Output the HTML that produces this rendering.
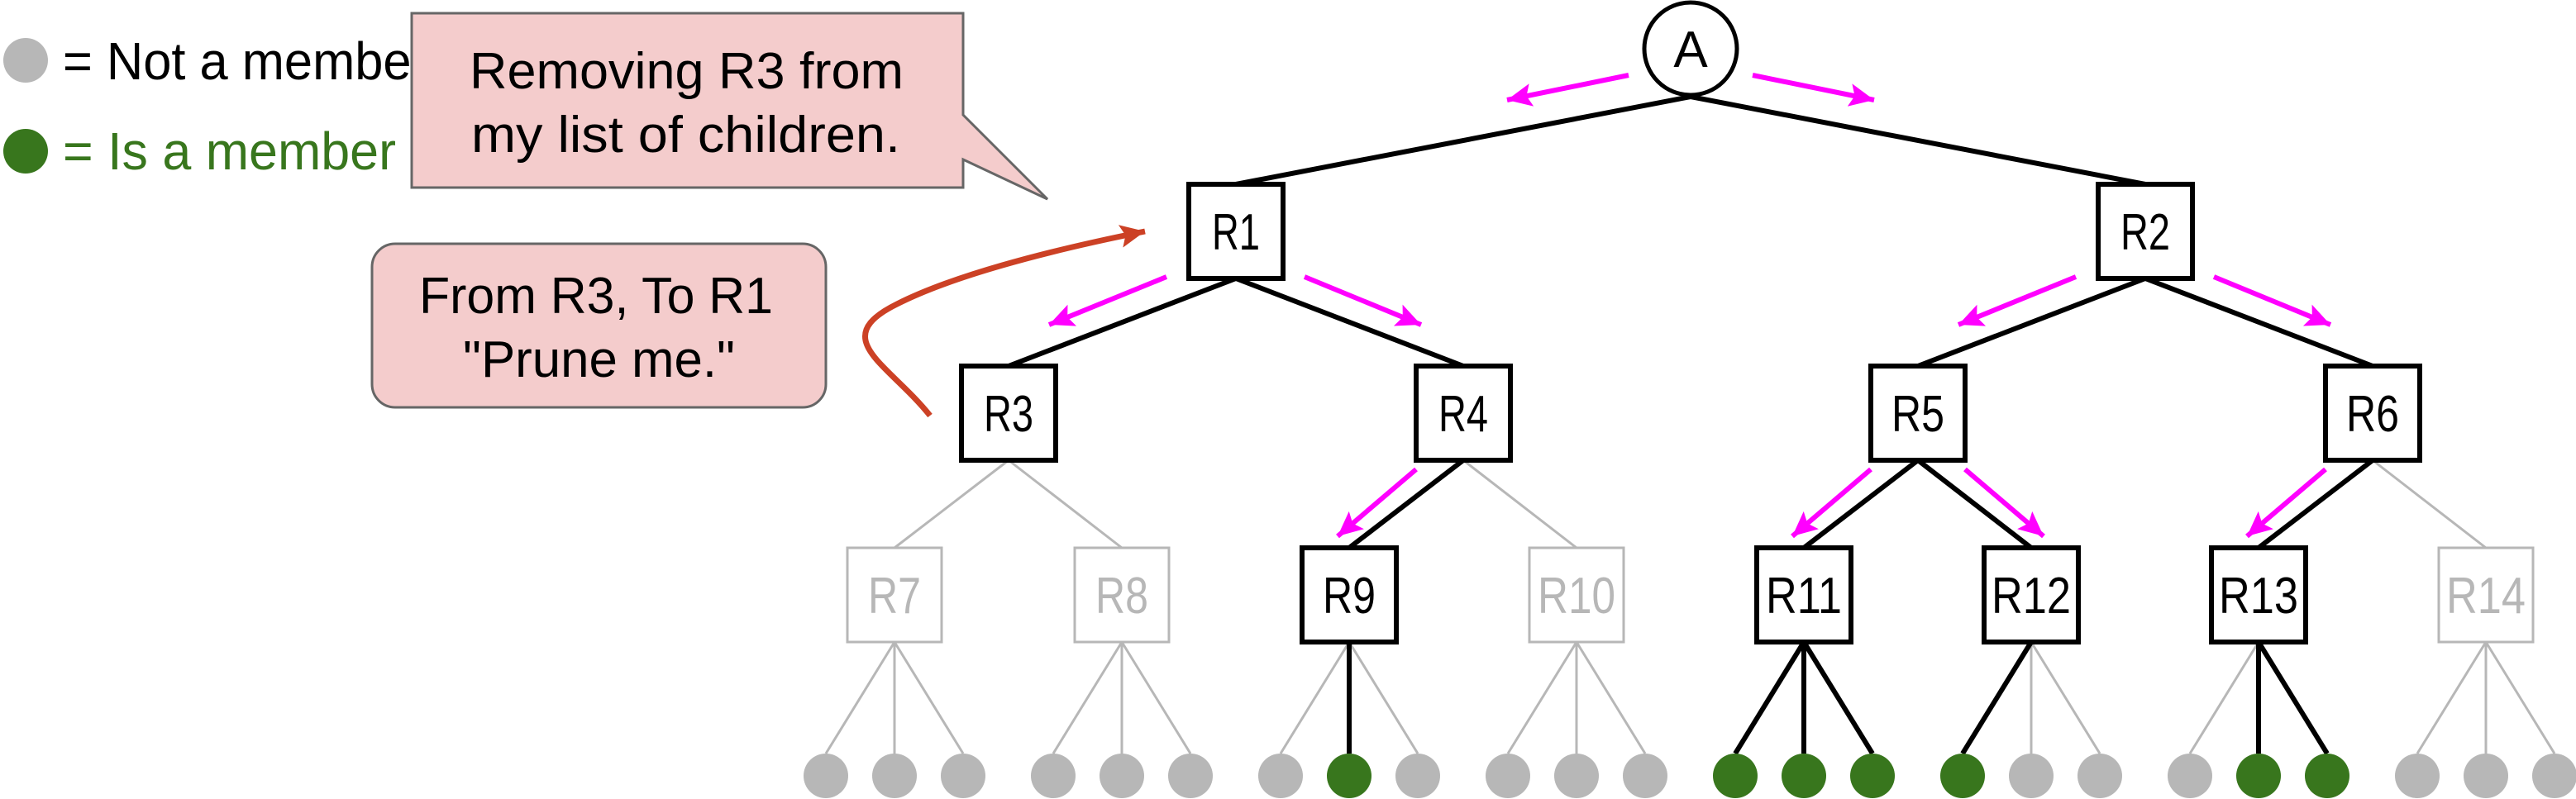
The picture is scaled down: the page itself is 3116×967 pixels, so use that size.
<!DOCTYPE html>
<html><head><meta charset="utf-8"><style>
html,body{margin:0;padding:0;background:#fff;}
svg{display:block;}
text{font-family:"Liberation Sans",sans-serif;}
</style></head><body>
<svg width="3116" height="967" viewBox="0 0 3116 967" xmlns="http://www.w3.org/2000/svg">
<defs>
<marker id="mg" markerUnits="userSpaceOnUse" markerWidth="40" markerHeight="40" refX="30" refY="14" orient="auto">
<path d="M0,0 L30,14 L0,28 L6,14 Z" fill="#ff00ff"/>
</marker>
<marker id="rd" markerUnits="userSpaceOnUse" markerWidth="40" markerHeight="40" refX="30" refY="14" orient="auto">
<path d="M0,0 L30,14 L0,28 L6,14 Z" fill="#cc4125"/>
</marker>
</defs>

<!-- legend -->
<ellipse cx="31" cy="73" rx="27" ry="27" fill="#b7b7b7"/>
<text x="76" y="96" font-size="64" textLength="442" lengthAdjust="spacingAndGlyphs">= Not a member</text>
<ellipse cx="31" cy="183" rx="27" ry="27" fill="#38761d"/>
<text x="76" y="205" font-size="64" fill="#38761d" textLength="403" lengthAdjust="spacingAndGlyphs">= Is a member</text>

<!-- callout 1 -->
<path d="M498,16 L1165,16 L1165,139 L1267,241 L1165,193 L1165,227 L498,227 Z" fill="#f4cccc" stroke="#666" stroke-width="3"/>
<text x="568" y="107" font-size="62" textLength="525" lengthAdjust="spacingAndGlyphs">Removing R3 from</text>
<text x="570" y="184" font-size="62" textLength="519" lengthAdjust="spacingAndGlyphs">my list of children.</text>

<!-- callout 2 -->
<rect x="450" y="295" width="549" height="198" rx="28" ry="28" fill="#f4cccc" stroke="#666" stroke-width="3"/>
<text x="507" y="379" font-size="62" textLength="428" lengthAdjust="spacingAndGlyphs">From R3, To R1</text>
<text x="560" y="456" font-size="62" textLength="329" lengthAdjust="spacingAndGlyphs">"Prune me."</text>

<!-- red curve -->
<path d="M1125,503 C1075,440 1000,410 1085,368 C1150,335 1260,305 1385,280" fill="none" stroke="#cc4125" stroke-width="7" marker-end="url(#rd)"/>

<!-- black edges -->
<g stroke="#000" stroke-width="6" fill="none">
<line x1="2045" y1="117" x2="1495" y2="223"/>
<line x1="2045" y1="117" x2="2595" y2="223"/>
<line x1="1495" y1="337" x2="1220" y2="443"/>
<line x1="1495" y1="337" x2="1770" y2="443"/>
<line x1="2595" y1="337" x2="2320" y2="443"/>
<line x1="2595" y1="337" x2="2870" y2="443"/>
<line x1="1770" y1="557" x2="1632" y2="663"/>
<line x1="2320" y1="557" x2="2182" y2="663"/>
<line x1="2320" y1="557" x2="2457" y2="663"/>
<line x1="2870" y1="557" x2="2732" y2="663"/>
</g>
<g stroke="#b7b7b7" stroke-width="3" fill="none">
<line x1="1220" y1="557" x2="1082" y2="663"/>
<line x1="1220" y1="557" x2="1357" y2="663"/>
<line x1="1770" y1="557" x2="1907" y2="663"/>
<line x1="2870" y1="557" x2="3007" y2="663"/>
</g>

<!-- leaf edges -->
<g stroke="#b7b7b7" stroke-width="3">
<line x1="1082" y1="777" x2="999" y2="912"/><line x1="1082" y1="777" x2="1082" y2="912"/><line x1="1082" y1="777" x2="1165" y2="912"/>
<line x1="1357" y1="777" x2="1274" y2="912"/><line x1="1357" y1="777" x2="1357" y2="912"/><line x1="1357" y1="777" x2="1440" y2="912"/>
<line x1="1632" y1="777" x2="1549" y2="912"/><line x1="1632" y1="777" x2="1715" y2="912"/>
<line x1="1907" y1="777" x2="1824" y2="912"/><line x1="1907" y1="777" x2="1907" y2="912"/><line x1="1907" y1="777" x2="1990" y2="912"/>
<line x1="2457" y1="777" x2="2457" y2="912"/><line x1="2457" y1="777" x2="2540" y2="912"/>
<line x1="2732" y1="777" x2="2649" y2="912"/>
<line x1="3007" y1="777" x2="2924" y2="912"/><line x1="3007" y1="777" x2="3007" y2="912"/><line x1="3007" y1="777" x2="3090" y2="912"/>
</g>
<g stroke="#000" stroke-width="6">
<line x1="1632" y1="777" x2="1632" y2="912"/>
<line x1="2182" y1="777" x2="2099" y2="912"/><line x1="2182" y1="777" x2="2182" y2="912"/><line x1="2182" y1="777" x2="2265" y2="912"/>
<line x1="2457" y1="777" x2="2374" y2="912"/>
<line x1="2732" y1="777" x2="2732" y2="912"/><line x1="2732" y1="777" x2="2815" y2="912"/>
</g>

<!-- leaves -->
<g>
<ellipse cx="999" cy="939" rx="27" ry="27" fill="#b7b7b7"/><ellipse cx="1082" cy="939" rx="27" ry="27" fill="#b7b7b7"/><ellipse cx="1165" cy="939" rx="27" ry="27" fill="#b7b7b7"/>
<ellipse cx="1274" cy="939" rx="27" ry="27" fill="#b7b7b7"/><ellipse cx="1357" cy="939" rx="27" ry="27" fill="#b7b7b7"/><ellipse cx="1440" cy="939" rx="27" ry="27" fill="#b7b7b7"/>
<ellipse cx="1549" cy="939" rx="27" ry="27" fill="#b7b7b7"/><ellipse cx="1632" cy="939" rx="27" ry="27" fill="#38761d"/><ellipse cx="1715" cy="939" rx="27" ry="27" fill="#b7b7b7"/>
<ellipse cx="1824" cy="939" rx="27" ry="27" fill="#b7b7b7"/><ellipse cx="1907" cy="939" rx="27" ry="27" fill="#b7b7b7"/><ellipse cx="1990" cy="939" rx="27" ry="27" fill="#b7b7b7"/>
<ellipse cx="2099" cy="939" rx="27" ry="27" fill="#38761d"/><ellipse cx="2182" cy="939" rx="27" ry="27" fill="#38761d"/><ellipse cx="2265" cy="939" rx="27" ry="27" fill="#38761d"/>
<ellipse cx="2374" cy="939" rx="27" ry="27" fill="#38761d"/><ellipse cx="2457" cy="939" rx="27" ry="27" fill="#b7b7b7"/><ellipse cx="2540" cy="939" rx="27" ry="27" fill="#b7b7b7"/>
<ellipse cx="2649" cy="939" rx="27" ry="27" fill="#b7b7b7"/><ellipse cx="2732" cy="939" rx="27" ry="27" fill="#38761d"/><ellipse cx="2815" cy="939" rx="27" ry="27" fill="#38761d"/>
<ellipse cx="2924" cy="939" rx="27" ry="27" fill="#b7b7b7"/><ellipse cx="3007" cy="939" rx="27" ry="27" fill="#b7b7b7"/><ellipse cx="3090" cy="939" rx="27" ry="27" fill="#b7b7b7"/>
</g>

<!-- magenta arrows -->
<g stroke="#ff00ff" stroke-width="6" fill="none" marker-end="url(#mg)">
<line x1="1970" y1="91" x2="1823" y2="121"/>
<line x1="2120" y1="91" x2="2267" y2="121"/>
<line x1="1411" y1="335" x2="1269" y2="393"/>
<line x1="1578" y1="335" x2="1719" y2="393"/>
<line x1="2511" y1="335" x2="2369" y2="393"/>
<line x1="2678" y1="335" x2="2819" y2="393"/>
<line x1="1713" y1="568" x2="1618" y2="649"/>
<line x1="2263" y1="568" x2="2168" y2="649"/>
<line x1="2377" y1="568" x2="2472" y2="649"/>
<line x1="2813" y1="568" x2="2718" y2="649"/>
</g>

<!-- root -->
<circle cx="2045" cy="59" r="56" fill="#fff" stroke="#000" stroke-width="5"/>
<text x="2045" y="81" font-size="62" text-anchor="middle">A</text>

<!-- black boxes -->
<g fill="#fff" stroke="#000" stroke-width="6">
<rect x="1438" y="223" width="114" height="114"/>
<rect x="2538" y="223" width="114" height="114"/>
<rect x="1163" y="443" width="114" height="114"/>
<rect x="1713" y="443" width="114" height="114"/>
<rect x="2263" y="443" width="114" height="114"/>
<rect x="2813" y="443" width="114" height="114"/>
<rect x="1575" y="663" width="114" height="114"/>
<rect x="2125" y="663" width="114" height="114"/>
<rect x="2400" y="663" width="114" height="114"/>
<rect x="2675" y="663" width="114" height="114"/>
</g>
<g fill="#fff" stroke="#b7b7b7" stroke-width="3">
<rect x="1025" y="663" width="114" height="114"/>
<rect x="1300" y="663" width="114" height="114"/>
<rect x="1850" y="663" width="114" height="114"/>
<rect x="2950" y="663" width="114" height="114"/>
</g>
<g font-size="62" text-anchor="middle">
<text x="1495" y="302" textLength="58" lengthAdjust="spacingAndGlyphs">R1</text>
<text x="2595" y="302" textLength="60" lengthAdjust="spacingAndGlyphs">R2</text>
<text x="1220" y="522" textLength="60" lengthAdjust="spacingAndGlyphs">R3</text>
<text x="1770" y="522" textLength="60" lengthAdjust="spacingAndGlyphs">R4</text>
<text x="2320" y="522" textLength="64" lengthAdjust="spacingAndGlyphs">R5</text>
<text x="2870" y="522" textLength="64" lengthAdjust="spacingAndGlyphs">R6</text>
<text x="1082" y="742" fill="#b7b7b7" textLength="64" lengthAdjust="spacingAndGlyphs">R7</text>
<text x="1357" y="742" fill="#b7b7b7" textLength="64" lengthAdjust="spacingAndGlyphs">R8</text>
<text x="1632" y="742" textLength="64" lengthAdjust="spacingAndGlyphs">R9</text>
<text x="1907" y="742" fill="#b7b7b7" textLength="94" lengthAdjust="spacingAndGlyphs">R10</text>
<text x="2182" y="742" textLength="92" lengthAdjust="spacingAndGlyphs">R11</text>
<text x="2457" y="742" textLength="96" lengthAdjust="spacingAndGlyphs">R12</text>
<text x="2732" y="742" textLength="96" lengthAdjust="spacingAndGlyphs">R13</text>
<text x="3007" y="742" fill="#b7b7b7" textLength="96" lengthAdjust="spacingAndGlyphs">R14</text>
</g>
</svg>
</body></html>
